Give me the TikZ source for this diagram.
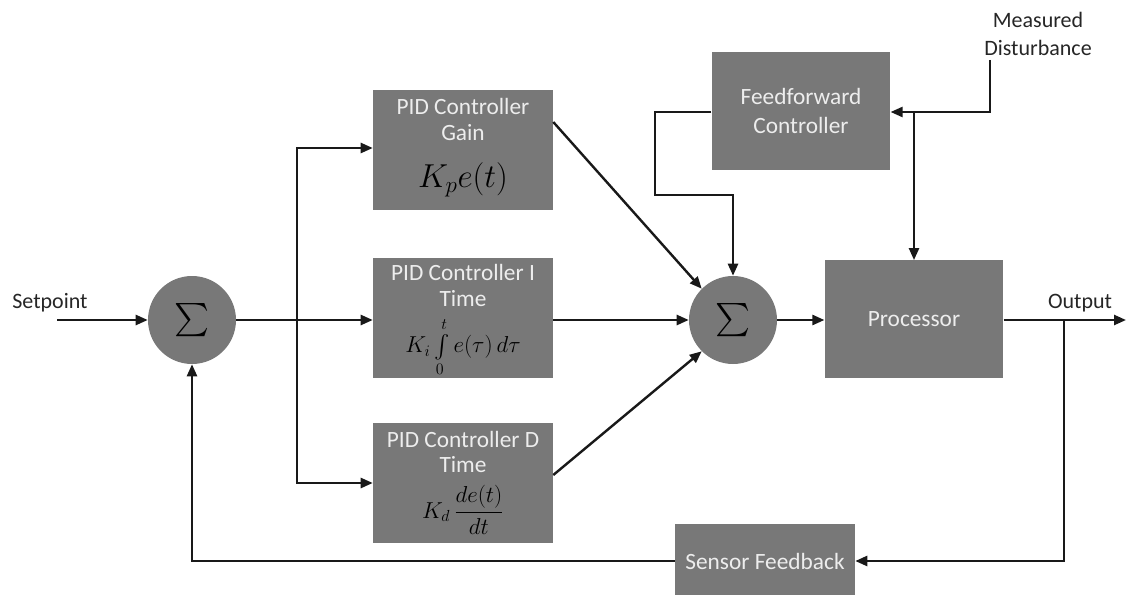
\documentclass[tikz,border=0pt]{standalone}
\usepackage{fontspec}
\setmainfont{Carlito}
\usepackage{amsmath}
\usetikzlibrary{arrows.meta}
\begin{document}
\begin{tikzpicture}[x=0.75pt,y=-0.75pt,
  blk/.style={draw=none,fill=boxgray,text=white!93!black,inner sep=0pt,align=center,font=\fontsize{17.5}{20}\selectfont},
  btxt/.style={text=white!93!black,font=\fontsize{17.5}{20}\selectfont,align=center,inner sep=0pt},
  sumc/.style={circle,fill=boxgray,minimum size=66pt,inner sep=0pt},
  conn/.style={line width=1.8pt,draw=black!90},
  arr/.style={conn,-{Triangle[length=9pt,width=7.5pt]}},
  lbl/.style={font=\fontsize{16.5}{19}\selectfont,text=black!85,inner sep=0pt}]
\definecolor{boxgray}{HTML}{787878}
\useasboundingbox (0,0) rectangle (1126,595);
% blocks
\node[blk,minimum width=135pt,minimum height=90pt] (gain) at (463,150) {};
\node[btxt] (gaint) at (463,106) {PID Controller};
\node[btxt] (gaint2) at (463,133) {Gain};
\node (gainf) at (463,180) {\fontsize{27}{30}\selectfont$K_p e(t)$};
\node[blk,minimum width=135pt,minimum height=90pt] (itime) at (463,318) {};
\node[btxt] (itimet) at (463,272) {PID Controller I};
\node[btxt] (itimet2) at (463,299) {Time};
\node[inner sep=0pt] (itimef) at (463,347) {\fontsize{16.5}{19}\selectfont$K_i\textstyle\int\limits_0^t e(\tau)\,d\tau$};
\node[blk,minimum width=135pt,minimum height=90pt] (dtime) at (463,483) {};
\node[btxt] (dtimet) at (463,439) {PID Controller D};
\node[btxt] (dtimet2) at (463,465) {Time};
\node (dtimef) at (463,510) {\fontsize{18}{20}\selectfont$K_d\,\dfrac{de(t)}{dt}$};
\node[blk,minimum width=134pt,minimum height=88pt,align=center] (ff) at (801,111) {Feedforward\\[2pt]Controller};
\node[blk,minimum width=134pt,minimum height=88pt] (proc) at (914,319) {Processor};
\node[blk,minimum width=135pt,minimum height=56pt] (sens) at (765,561) {Sensor Feedback};
% summing junctions
\node[sumc] (s1) at (192,320) {\fontsize{31}{31}\selectfont$\sum$};
\node[sumc] (s2) at (733,320) {\fontsize{31}{31}\selectfont$\sum$};
% labels
\node[lbl] (setp) at (50,303) {Setpoint};
\node[lbl] (outp) at (1080,303) {Output};
\node[lbl,align=center] (md) at (1038,34) {Measured\\[2pt]Disturbance};
% coordinates
\coordinate (sp0) at (57,320);
\coordinate (br1) at (297,320);
\coordinate (out0) at (1126,320);
\coordinate (ob) at (1064,320);
\coordinate (md0) at (990,60);
\coordinate (mdb) at (914,112);
% connectors
\draw[arr] (sp0) -- (s1.west);
\draw[arr] (s1.east) -- (itime.west |- s1.east);
\draw[arr] (br1) |- (gain.west |- 0,148);
\draw[arr] (br1) |- (dtime.west |- 0,483);
\draw[arr] (gain.east |- 0,122) -- (s2.135);
\draw[arr] (itime.east |- 0,320) -- (s2.west);
\draw[arr] (dtime.east |- 0,475) -- (s2.225);
\draw[arr] (ff.west |- 0,112) -- (655,112) -- (655,195) -- (733,195) -- (s2.north);
\draw[arr] (md0) |- (ff.east |- 0,112);
\draw[arr] (mdb) -- (proc.north -| mdb);
\draw[arr] (s2.east) -- (proc.west |- s2.east);
\draw[arr] (proc.east |- 0,320) -- (out0);
\draw[arr] (ob) |- (sens.east);
\draw[arr] (sens.west) -| (s1.south);
\end{tikzpicture}
\end{document}
